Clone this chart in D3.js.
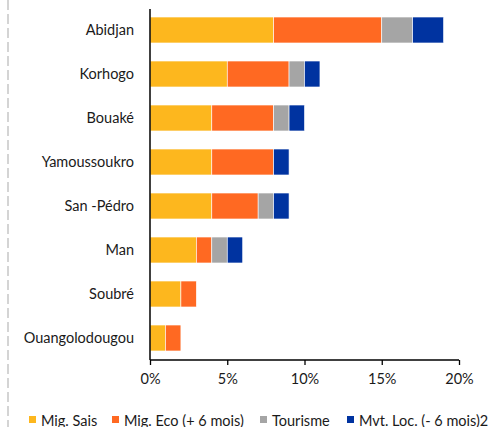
<!DOCTYPE html>
<html>
<head>
<meta charset="utf-8">
<script src="https://cdn.jsdelivr.net/npm/d3@7"></script>
<style>
  body { margin: 0; background: #fff; }
  svg text { font-family: "Lato", "Open Sans", sans-serif; fill: #1a1a1a; }
</style>
</head>
<body>
<div class="grafico"></div>
<script>
// villes (de haut en bas)
var villes = ["Abidjan", "Korhogo", "Bouaké", "Yamoussoukro", "San -Pédro", "Man", "Soubré", "Ouangolodougou"];
// valeurs en %
var migSais = [8, 5, 4, 4, 4, 3, 2, 1];
var migEco  = [7, 4, 4, 4, 3, 1, 1, 1];
var tourisme = [2, 1, 1, 0, 1, 1, 0, 0];
var mvtLoc  = [2, 1, 1, 1, 1, 1, 0, 0];
var series = ["Mig. Sais", "Mig. Eco (+ 6 mois)", "Tourisme", "Mvt. Loc. (- 6 mois)2"];
var couleurs = ["#FDB71E", "#FF6922", "#A5A5A5", "#0033A0"];
var ticks = [0, 5, 10, 15, 20];

var width = 494, height = 427;

var svg = d3.select(".grafico").append("svg")
  .attr("width", width)
  .attr("height", height);

// ligne pointillée à gauche
svg.append("line")
  .attr("x1", 8).attr("x2", 8)
  .attr("y1", 0).attr("y2", height)
  .attr("stroke", "#d4d4d4")
  .attr("stroke-width", 2)
  .attr("stroke-dasharray", "10,4");

var tabela = villes.map(function(v, i){
  return { ville: v, s0: migSais[i], s1: migEco[i], s2: tourisme[i], s3: mvtLoc[i] };
});
var stack = d3.stack().keys(["s0", "s1", "s2", "s3"])(tabela);

var x = d3.scaleLinear().domain([0, 20]).range([150, 459]);
var y = d3.scaleBand().domain(villes).range([8, 360])
  .paddingInner(0.41).paddingOuter(0.205);

// barres
svg.selectAll("g.serie")
  .data(stack)
  .enter().append("g")
    .attr("class", "serie")
    .attr("fill", function(d, i){ return couleurs[i]; })
  .selectAll("rect")
  .data(function(d){ return d; })
  .enter().append("rect")
    .attr("x", function(d){ return x(d[0]); })
    .attr("y", function(d){ return y(d.data.ville); })
    .attr("width", function(d){ return x(d[1]) - x(d[0]); })
    .attr("height", y.bandwidth())
    .attr("stroke", "#fff")
    .attr("stroke-width", 0.6);

// axe x
var xAxis = d3.axisBottom(x)
  .tickValues(ticks)
  .tickSize(5)
  .tickFormat(function(d){ return d + "%"; });
var gx = svg.append("g")
  .attr("transform", "translate(0,360)")
  .call(xAxis);
gx.select(".domain").attr("stroke", "#000").attr("stroke-width", 1.5)
  .attr("d", "M150,0H459");
gx.selectAll(".tick line").attr("stroke", "#000").attr("stroke-width", 1.3);
gx.selectAll(".tick text")
  .attr("y", 14)
  .style("font-size", "14.5px")
  .style("font-family", "Lato, sans-serif")
  .attr("fill", "#1a1a1a");

// axe y
var yAxis = d3.axisLeft(y).tickSize(0).tickPadding(16);
var gy = svg.append("g")
  .attr("transform", "translate(150,0)")
  .call(yAxis);
gy.select(".domain").attr("stroke", "#000").attr("stroke-width", 1.5)
  .attr("d", "M0,9V360");
gy.selectAll(".tick text")
  .style("font-size", "14.5px")
  .style("font-family", "Lato, sans-serif")
  .attr("fill", "#1a1a1a");

// légende
var legX = [29, 112, 260, 347];
var leg = svg.selectAll("g.leg")
  .data(series)
  .enter().append("g")
    .attr("class", "leg")
    .attr("transform", function(d, i){ return "translate(" + legX[i] + ",416)"; });
leg.append("rect")
  .attr("width", 7).attr("height", 7)
  .attr("fill", function(d, i){ return couleurs[i]; });
leg.append("text")
  .attr("x", 12).attr("y", 9.5)
  .style("font-size", "14.5px")
  .text(function(d){ return d; });
</script>
</body>
</html>
